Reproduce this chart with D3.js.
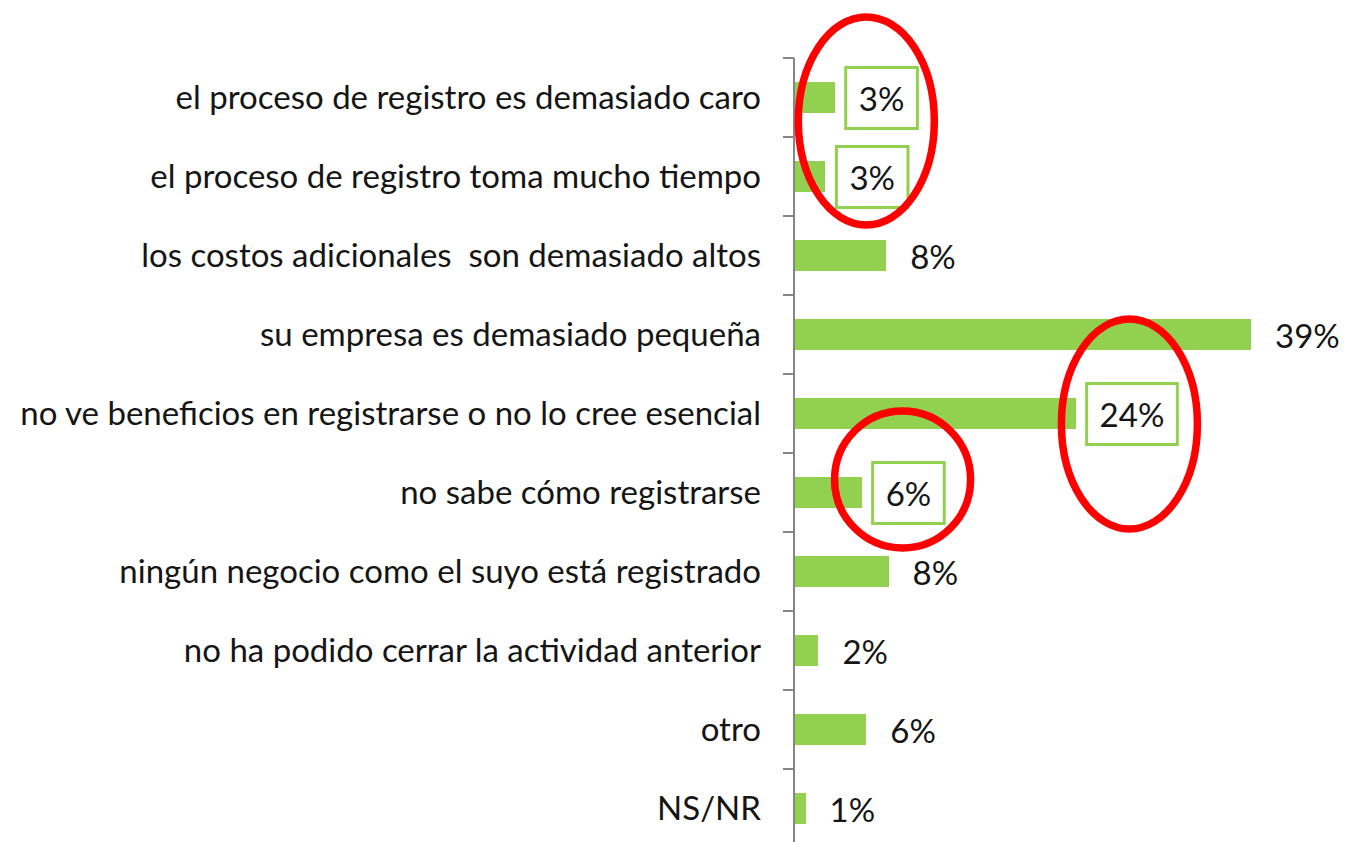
<!DOCTYPE html>
<html>
<head>
<meta charset="utf-8">
<script src="https://cdn.jsdelivr.net/npm/d3@7"></script>
<style>
  body { margin: 0; background: #fff; }
  svg text { font-family: Lato, "Open Sans", sans-serif; fill: #151515; white-space: pre; }
</style>
</head>
<body>
<script>
// Chart data
var categories = [
  "el proceso de registro es demasiado caro",
  "el proceso de registro toma mucho tiempo",
  "los costos adicionales  son demasiado altos",
  "su empresa es demasiado pequeña",
  "no ve beneficios en registrarse o no lo cree esencial",
  "no sabe cómo registrarse",
  "ningún negocio como el suyo está registrado",
  "no ha podido cerrar la actividad anterior",
  "otro",
  "NS/NR"
];
var values = [3.4, 2.6, 7.8, 39, 24, 5.7, 8.0, 2.0, 6.1, 0.9];
// labels that get a green frame
var boxedLabels = [0, 1, 4, 5];
// red ellipses: first/last category circled, centre value on the x axis
var circleFirst = [0, 4, 5];
var circleLast = [1, 4, 5];
var circleCenter = [6.1, 28.6, 9.2];

var width = 1346, height = 842;
var margin = {top: 58, left: 795};
var green = "#92D050", red = "#FF0000", axisGray = "#868686";

var svg = d3.select("body").append("svg")
  .attr("width", width)
  .attr("height", height);

var x = d3.scaleLinear()
  .domain([0, 39])
  .range([margin.left, margin.left + 456]);

var y = d3.scaleBand()
  .domain(categories)
  .range([margin.top, margin.top + 790])
  .paddingInner(0.6)
  .paddingOuter(0.3);

var format = function(v) { return d3.format(".0f")(v) + "%"; };
var gap = (y.step() - y.bandwidth()) / 2;

// Bars
svg.append("g").selectAll("rect")
  .data(values)
  .enter().append("rect")
  .attr("x", x(0))
  .attr("y", function(d, i) { return y(categories[i]); })
  .attr("width", function(d) { return x(d) - x(0); })
  .attr("height", y.bandwidth())
  .attr("fill", green)
  .attr("shape-rendering", "crispEdges");

// Axis line + ticks on category boundaries
var axis = svg.append("g").attr("shape-rendering", "crispEdges");
axis.append("line")
  .attr("x1", x(0) - 1).attr("x2", x(0) - 1)
  .attr("y1", y.range()[0]).attr("y2", y.range()[1])
  .attr("stroke", axisGray).attr("stroke-width", 2);
var bounds = categories.map(function(c) { return y(c) - gap; });
axis.selectAll(".tick")
  .data(bounds)
  .enter().append("line")
  .attr("x1", x(0) - 12).attr("x2", x(0) - 1)
  .attr("y1", function(d) { return d; })
  .attr("y2", function(d) { return d; })
  .attr("stroke", axisGray).attr("stroke-width", 2);

// Category labels
var catLabels = svg.append("g").selectAll("text")
  .data(categories)
  .enter().append("text")
  .attr("x", x(0) - 34)
  .attr("y", function(d) { return y(d) + y.bandwidth() / 2; })
  .attr("dy", "0.36em")
  .attr("text-anchor", "end")
  .style("font-size", "33px")
  .text(function(d) { return d; });

// shrink if the longest label does not fit
var maxLen = d3.max(catLabels.nodes(), function(n) { return n.getComputedTextLength(); });
var room = x(0) - 34 - 14;
if (maxLen > room) {
  catLabels.style("font-size", (33 * room / maxLen).toFixed(2) + "px");
}

// Value labels
var valLabels = svg.append("g").selectAll("text")
  .data(values)
  .enter().append("text")
  .attr("x", function(d) { return x(d) + 24; })
  .attr("y", function(d, i) { return y(categories[i]) + y.bandwidth() / 2; })
  .attr("dy", "0.42em")
  .style("font-size", "33px")
  .text(function(d) { return format(d); });

// Green frames round some labels
valLabels.each(function(d, i) {
  if (boxedLabels.indexOf(i) < 0) return;
  var bb = this.getBBox();
  var cy = y(categories[i]) + y.bandwidth() / 2;
  svg.append("rect")
    .attr("x", bb.x - 13)
    .attr("y", cy - 30)
    .attr("width", bb.width + 26)
    .attr("height", 61)
    .attr("fill", "none")
    .attr("stroke", green)
    .attr("stroke-width", 3);
});

// Red ellipses
circleFirst.forEach(function(f, k) {
  var l = circleLast[k];
  var top = y(categories[f]) - gap;
  var bottom = y(categories[l]) + y.bandwidth() + gap;
  var rows = l - f + 1;
  var cy = (top + bottom) / 2 + (rows > 1 ? -16 : (k === 1 ? 10.5 : -13));
  var ry = rows > 1 ? 104 : (k === 1 ? 105 : 68.5);
  svg.append("ellipse")
    .attr("cx", x(circleCenter[k]))
    .attr("cy", cy)
    .attr("rx", 68)
    .attr("ry", ry)
    .attr("fill", "none")
    .attr("stroke", red)
    .attr("stroke-width", 7.5);
});
</script>
</body>
</html>
